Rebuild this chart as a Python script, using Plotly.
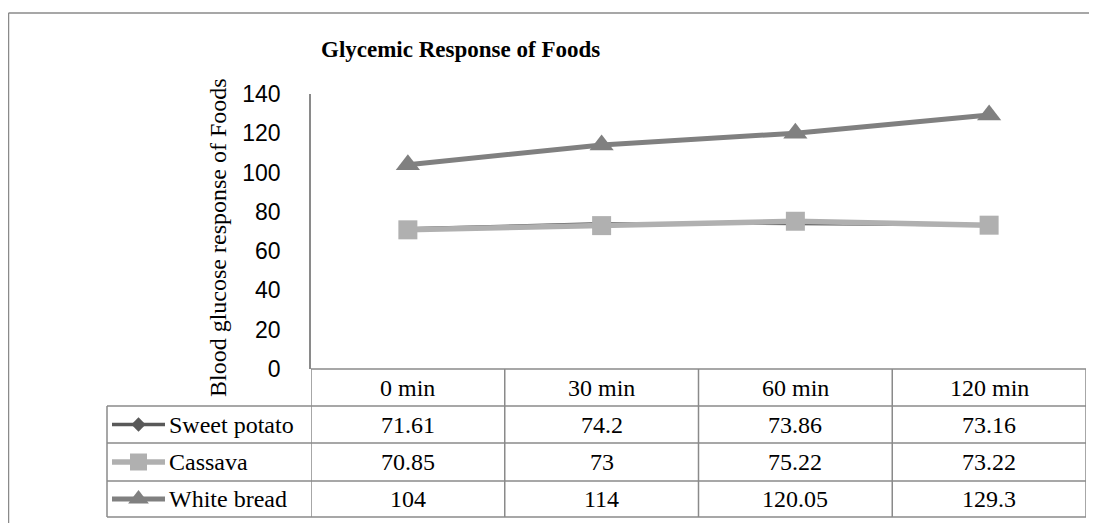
import plotly.graph_objects as go

# ---- data ----
categories = ["0 min", "30 min", "60 min", "120 min"]
series_names = ["Sweet potato", "Cassava", "White bread"]
sweet_potato = [71.61, 74.2, 73.86, 73.16]
cassava = [70.85, 73, 75.22, 73.22]
white_bread = [104, 114, 120.05, 129.3]
y_ticks = [0, 20, 40, 60, 80, 100, 120, 140]
chart_title = "Glycemic Response of Foods"
y_title = "Blood glucose response of Foods"

series_values = [sweet_potato, cassava, white_bread]

# ---- styles ----
colors = ["#595959", "#b0b0b0", "#808080"]
widths = [2.5, 5.5, 5]
symbols = ["diamond", "square", "triangle-up"]
msizes = [7, 19, 21]
key_sizes = [11, 17, 18]

W, H = 1097, 523
OFF = 8                                  # page body margin of the html page
PL, PR, PT, PB = 311, 1086, 94, 369      # plot area in screen px
LEG_L = 107                              # table legend column left
ROWS = [369, 406, 443, 481, 517]         # table row boundaries
GRID = "#8a8a8a"
SERIF = "Liberation Serif, Times New Roman, serif"
SANS = "Liberation Sans, Arial, sans-serif"


def px(x):
    return (x - OFF) / W


def py(y):
    return 1 - (y - OFF) / H


fig = go.Figure()

# main series
for name, vals, c, w, s, m in zip(series_names, series_values, colors, widths, symbols, msizes):
    fig.add_trace(go.Scatter(
        x=categories, y=vals, name=name, mode="lines+markers",
        line=dict(color=c, width=w),
        marker=dict(symbol=s, size=m, color=c, line=dict(width=0)),
        cliponaxis=False, showlegend=False, xaxis="x", yaxis="y",
    ))

# legend keys inside the data table (pixel overlay axes)
for i, (name, c, w, s, k) in enumerate(zip(series_names, colors, widths, symbols, key_sizes)):
    yc = (ROWS[i + 1] + ROWS[i + 2]) / 2 - OFF
    fig.add_trace(go.Scatter(
        x=[112 - OFF, 165 - OFF], y=[yc, yc], mode="lines", line=dict(color=c, width=max(w, 3.5)),
        showlegend=False, hoverinfo="skip", xaxis="x2", yaxis="y2",
    ))
    fig.add_trace(go.Scatter(
        x=[138.5 - OFF], y=[yc], mode="markers",
        marker=dict(symbol=s, size=k, color=c, line=dict(width=0)),
        showlegend=False, hoverinfo="skip", xaxis="x2", yaxis="y2",
    ))

shapes = []
# outer frame
shapes.append(dict(type="line", xref="paper", yref="paper", x0=px(8.5), x1=px(1110), y0=py(13), y1=py(13),
                   line=dict(color=GRID, width=1.5)))
shapes.append(dict(type="line", xref="paper", yref="paper", x0=px(8.5), x1=px(8.5), y0=py(13), y1=py(540),
                   line=dict(color=GRID, width=1.5)))
# table horizontal lines
shapes.append(dict(type="line", xref="paper", yref="paper", x0=px(PL), x1=px(PR), y0=py(ROWS[0]), y1=py(ROWS[0]),
                   line=dict(color=GRID, width=1.5)))
for r in ROWS[1:]:
    shapes.append(dict(type="line", xref="paper", yref="paper", x0=px(LEG_L), x1=px(PR), y0=py(r), y1=py(r),
                       line=dict(color=GRID, width=1.5)))
# table vertical lines (category boundaries on the x scale)
for k in range(len(categories) + 1):
    shapes.append(dict(type="line", xref="x", yref="paper", x0=k - 0.5, x1=k - 0.5,
                       y0=py(ROWS[0]), y1=py(ROWS[-1]), line=dict(color=GRID, width=1.5)))
shapes.append(dict(type="line", xref="paper", yref="paper", x0=px(LEG_L), x1=px(LEG_L),
                   y0=py(ROWS[1]), y1=py(ROWS[-1]), line=dict(color=GRID, width=1.5)))

annotations = []
TFONT = dict(family=SERIF, size=24, color="#000")
# header row
hc = (ROWS[0] + ROWS[1]) / 2
for cat in categories:
    annotations.append(dict(x=cat, y=py(hc), xref="x", yref="paper", text=cat, showarrow=False,
                            font=TFONT, xanchor="center", yanchor="middle"))
# data rows
for i, (name, vals) in enumerate(zip(series_names, series_values)):
    yc = (ROWS[i + 1] + ROWS[i + 2]) / 2
    annotations.append(dict(x=px(167), y=py(yc), xref="paper", yref="paper", text=name, showarrow=False,
                            font=TFONT, xanchor="left", yanchor="middle"))
    for cat, v in zip(categories, vals):
        annotations.append(dict(x=cat, y=py(yc), xref="x", yref="paper", text=f"{v:g}", showarrow=False,
                                font=TFONT, xanchor="center", yanchor="middle"))
# title
annotations.append(dict(x=px(319), y=py(50), xref="paper", yref="paper", text="<b>" + chart_title + "</b>",
                        showarrow=False, font=dict(family=SERIF, size=23, color="#000"),
                        xanchor="left", yanchor="middle"))
# y-axis title
annotations.append(dict(x=px(218), y=py(238), xref="paper", yref="paper", text=y_title, textangle=-90,
                        showarrow=False, font=dict(family=SERIF, size=24, color="#000"),
                        xanchor="center", yanchor="middle"))

fig.update_layout(
    width=W, height=H,
    margin=dict(l=0, r=0, t=0, b=0, autoexpand=False),
    paper_bgcolor="white", plot_bgcolor="rgba(0,0,0,0)",
    showlegend=False,
    xaxis=dict(domain=[px(PL), px(PR)], range=[-0.5, 3.5], type="category",
               categoryorder="array", categoryarray=categories, automargin=False,
               showticklabels=False, showline=False, showgrid=False, zeroline=False, anchor="y"),
    yaxis=dict(domain=[py(PB), py(PT)], range=[0, 140], tickvals=y_ticks, automargin=False,
               showline=True, linecolor=GRID, linewidth=1.5, showgrid=False, zeroline=False,
               ticks="", ticklabelstandoff=24, tickfont=dict(family=SANS, size=23, color="#000"),
               anchor="x"),
    xaxis2=dict(domain=[0, 1], range=[0, W], visible=False, anchor="y2", fixedrange=True, automargin=False),
    yaxis2=dict(domain=[0, 1], range=[H, 0], visible=False, anchor="x2", fixedrange=True, automargin=False),
    shapes=shapes,
    annotations=annotations,
)

fig.write_html("out.html")
